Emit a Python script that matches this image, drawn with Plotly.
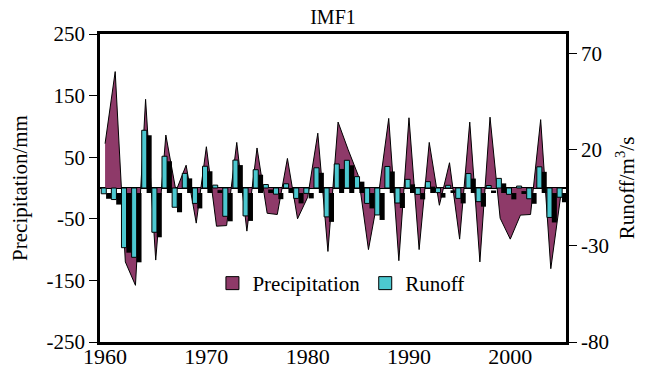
import plotly.graph_objects as go

# Annual series, 1960-2005
years = list(range(1960, 2006))
precipitation = [72, 189, -120, -158, 144, -117, 86, -5, 37, -57,
                 67, -62, -61, 74, -70, 65, -41, -43, 48, -50,
                 -15, 89, -103, 107, 62, 20, -100, -10, 113, -118,
                 114, -100, 74, -28, 41, -83, 107, -120, 115, -49,
                 -83, -44, -43, 111, -131, -10]
runoff = [-3, -6, -31, -36, 30, -23, 16.5, -10, 7.6, -8,
          11.3, 1.5, -14.7, 14.5, -14.5, 9.5, 1.8, -3.2, 2.2, -5.4,
          -2.8, 10.5, -15, 12.5, 14.4, 5.9, -8, -14, 11.2, -7.8,
          4.5, -3.3, 3.3, -2.4, 1.4, -5.4, 7.5, -7.1, 1.3, 5,
          -3.3, 1, -5.6, 11, -15.3, -4.8]

x_ticks = [1960, 1970, 1980, 1990, 2000]
precip_ticks = [250, 150, 50, -50, -150, -250]
runoff_ticks = [70, 20, -30, -80]

PLUM = "#8E3A69"
TEAL = "#4CC8D0"
FONT = "Liberation Serif, Times New Roman, serif"

fig = go.Figure()

# precipitation as filled area around zero
fig.add_trace(go.Scatter(
    x=years, y=precipitation, mode="lines", fill="tozeroy",
    fillcolor=PLUM, line=dict(color="black", width=1),
    showlegend=False, yaxis="y"))

# black drop shadow behind each runoff bar
fig.add_trace(go.Bar(
    x=years, y=runoff, base=-2.6, width=0.5, offset=0.1,
    marker=dict(color="black", line=dict(width=0)),
    showlegend=False, yaxis="y2"))

# runoff bars
fig.add_trace(go.Bar(
    x=years, y=runoff, width=0.5, offset=-0.38,
    marker=dict(color=TEAL, line=dict(color="black", width=1)),
    showlegend=False, yaxis="y2"))

# legend swatches
fig.add_trace(go.Scatter(
    x=[None], y=[None], mode="markers", name="Precipitation",
    marker=dict(symbol="square", size=13, color=PLUM,
                line=dict(color="black", width=1))))
fig.add_trace(go.Scatter(
    x=[None], y=[None], mode="markers", name="Runoff",
    marker=dict(symbol="square", size=13, color=TEAL,
                line=dict(color="black", width=1))))

fig.update_layout(
    width=656, height=372,
    margin=dict(l=100, r=90, t=34, b=30),
    paper_bgcolor="white", plot_bgcolor="white",
    font=dict(family=FONT, size=21, color="black"),
    barmode="overlay",
    title=dict(text="IMF1", x=(100 + 566) / 2 / 656, xanchor="center",
               y=1 - 17 / 372, yanchor="middle",
               font=dict(family=FONT, size=20)),
    xaxis=dict(range=[1959.5, 2005.5], tickvals=x_ticks,
               ticktext=[str(v) for v in x_ticks],
               showline=True, linecolor="black", linewidth=2.5,
               mirror=True, ticks="", showgrid=False, zeroline=False,
               automargin=False, ticklabelstandoff=-7,
               tickfont=dict(family=FONT, size=22)),
    yaxis=dict(range=[-250, 250], tickvals=precip_ticks,
               ticktext=[str(v) for v in precip_ticks],
               title=dict(text="Precipitation/mm", standoff=14,
                          font=dict(family=FONT, size=21)),
               showline=True, linecolor="black", linewidth=2.5,
               ticks="outside", ticklen=8, tickcolor="black",
               showgrid=False, zeroline=True, zerolinecolor="black",
               zerolinewidth=1.5, automargin=False,
               tickfont=dict(family=FONT, size=21)),
    yaxis2=dict(range=[-80, 80], tickvals=runoff_ticks,
                ticktext=[str(v) for v in runoff_ticks],
                title=dict(text="Runoff/m<sup>3</sup>/s", standoff=12,
                           font=dict(family=FONT, size=21)),
                overlaying="y", side="right",
                showline=True, linecolor="black", linewidth=2.5,
                ticks="outside", ticklen=8, tickcolor="black",
                showgrid=False, zeroline=False, automargin=False,
                tickfont=dict(family=FONT, size=21)),
    legend=dict(orientation="h", x=0.517, xanchor="center",
                y=0.19, yanchor="middle", bgcolor="rgba(0,0,0,0)",
                font=dict(family=FONT, size=21), itemwidth=30),
)

fig.write_html("out.html")
